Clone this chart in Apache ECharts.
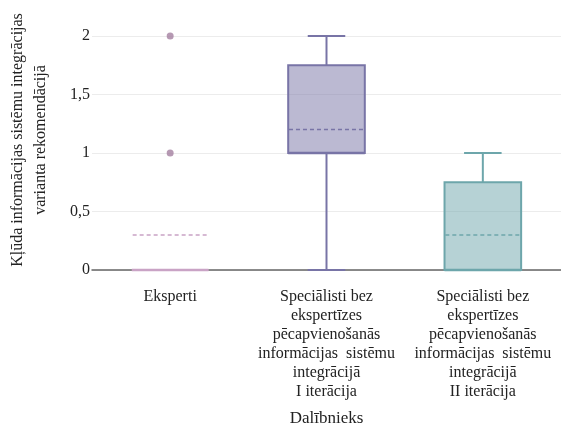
<!DOCTYPE html>
<html>
<head>
<meta charset="utf-8">
<script src="https://cdn.jsdelivr.net/npm/echarts@6/dist/echarts.min.js"></script>
<style>
html,body{margin:0;padding:0;background:#fff;}
#chart{width:561px;height:429px;}
</style>
</head>
<body>
<div id="chart"></div>
<script>
// Groups (x axis categories)
var categories = [
  'Eksperti',
  'Speciālisti bez\nekspertīzes\npēcapvienošanās\ninformācijas  sistēmu\nintegrācijā\nI iterācija',
  'Speciālisti bez\nekspertīzes\npēcapvienošanās\ninformācijas  sistēmu\nintegrācijā\nII iterācija'
];
// Box statistics per group: [min, Q1, median, Q3, max]
var boxStats = [
  [0, 0, 0, 0, 0],
  [0, 1, 1, 1.75, 2],
  [0, 0, 0, 0.75, 1]
];
// Mean of each group
var means = [0.3, 1.2, 0.3];
// Outliers: [group index, value]
var outliers = [[0, 1], [0, 2]];
var yTicks = [0, 0.5, 1, 1.5, 2];

var strokeColors = ['#c9a3c5', '#7874a6', '#6da6ab'];
var fillColors = ['rgba(201,163,197,0.5)', 'rgba(120,116,166,0.5)', 'rgba(109,166,171,0.5)'];
var FONT = '"Liberation Serif", "DejaVu Serif", serif';

var boxData = boxStats.map(function (s, i) { return [i].concat(s); });
var meanData = means.map(function (m, i) { return [i, m]; });

function renderBox(params, api) {
  var i = api.value(0);
  var band = api.size([1, 0])[0];
  var half = band * 0.245;
  var capHalf = band * 0.12;
  var x = api.coord([i, 0])[0];
  var yMin = api.coord([i, api.value(1)])[1];
  var yQ1 = api.coord([i, api.value(2)])[1];
  var yMed = api.coord([i, api.value(3)])[1];
  var yQ3 = api.coord([i, api.value(4)])[1];
  var yMax = api.coord([i, api.value(5)])[1];
  var stroke = strokeColors[i];
  var lw = 2;
  return {
    type: 'group',
    children: [
      { type: 'line', shape: { x1: x, y1: yQ3, x2: x, y2: yMax }, style: { stroke: stroke, lineWidth: lw } },
      { type: 'line', shape: { x1: x, y1: yQ1, x2: x, y2: yMin }, style: { stroke: stroke, lineWidth: lw } },
      { type: 'line', shape: { x1: x - capHalf, y1: yMax, x2: x + capHalf, y2: yMax }, style: { stroke: stroke, lineWidth: lw } },
      { type: 'line', shape: { x1: x - capHalf, y1: yMin, x2: x + capHalf, y2: yMin }, style: { stroke: stroke, lineWidth: lw } },
      { type: 'rect', shape: { x: x - half, y: yQ3, width: half * 2, height: yQ1 - yQ3 },
        style: { fill: fillColors[i], stroke: stroke, lineWidth: lw } },
      { type: 'line', shape: { x1: x - half, y1: yMed, x2: x + half, y2: yMed }, style: { stroke: stroke, lineWidth: lw + 0.5 } }
    ]
  };
}

function renderMean(params, api) {
  var i = api.value(0);
  var band = api.size([1, 0])[0];
  var half = band * 0.24;
  var p = api.coord([i, api.value(1)]);
  return {
    type: 'line',
    shape: { x1: p[0] - half, y1: p[1], x2: p[0] + half, y2: p[1] },
    style: { stroke: strokeColors[i], lineWidth: 1.5, lineDash: [4, 3] }
  };
}

var chart = echarts.init(document.getElementById('chart'), null, { renderer: 'canvas' });
chart.setOption({
  animation: false,
  backgroundColor: '#ffffff',
  grid: { left: 92, right: 0, top: 36, bottom: 159, containLabel: false, outerBoundsMode: 'none' },
  xAxis: {
    type: 'category',
    data: categories,
    boundaryGap: true,
    axisLine: { show: true, lineStyle: { color: '#666', width: 1.5 } },
    axisTick: { show: false },
    axisLabel: { interval: 0, margin: 17, fontFamily: FONT, fontSize: 16, color: '#222', lineHeight: 19, align: 'center' },
    name: 'Dalībnieks',
    nameLocation: 'middle',
    nameGap: 140,
    nameTextStyle: { fontFamily: FONT, fontSize: 17, color: '#222' }
  },
  yAxis: {
    type: 'value',
    min: 0,
    max: 2,
    interval: 0.5,
    axisLine: { show: false },
    axisTick: { show: false },
    splitLine: { lineStyle: { color: '#ececec', width: 1 } },
    axisLabel: {
      margin: 2,
      fontFamily: FONT, fontSize: 16, color: '#222',
      formatter: function (v) { return yTicks.indexOf(v) >= 0 ? String(v).replace('.', ',') : ''; }
    },
    name: 'Kļūda informācijas sistēmu integrācijas\nvarianta rekomendācijā',
    nameLocation: 'middle',
    nameRotate: 90,
    nameGap: 40,
    nameTextStyle: { fontFamily: FONT, fontSize: 16, color: '#222', lineHeight: 23, padding: [0, 0, 0, 26] }
  },
  series: [
    { type: 'custom', renderItem: renderBox, data: boxData, encode: { x: 0, y: [1, 2, 3, 4, 5] }, z: 3 },
    { type: 'custom', renderItem: renderMean, data: meanData, encode: { x: 0, y: 1 }, z: 4 },
    {
      type: 'scatter', data: outliers, symbol: 'circle', symbolSize: 7,
      itemStyle: { color: '#a47fa0' }, z: 5
    }
  ]
});
</script>
</body>
</html>
